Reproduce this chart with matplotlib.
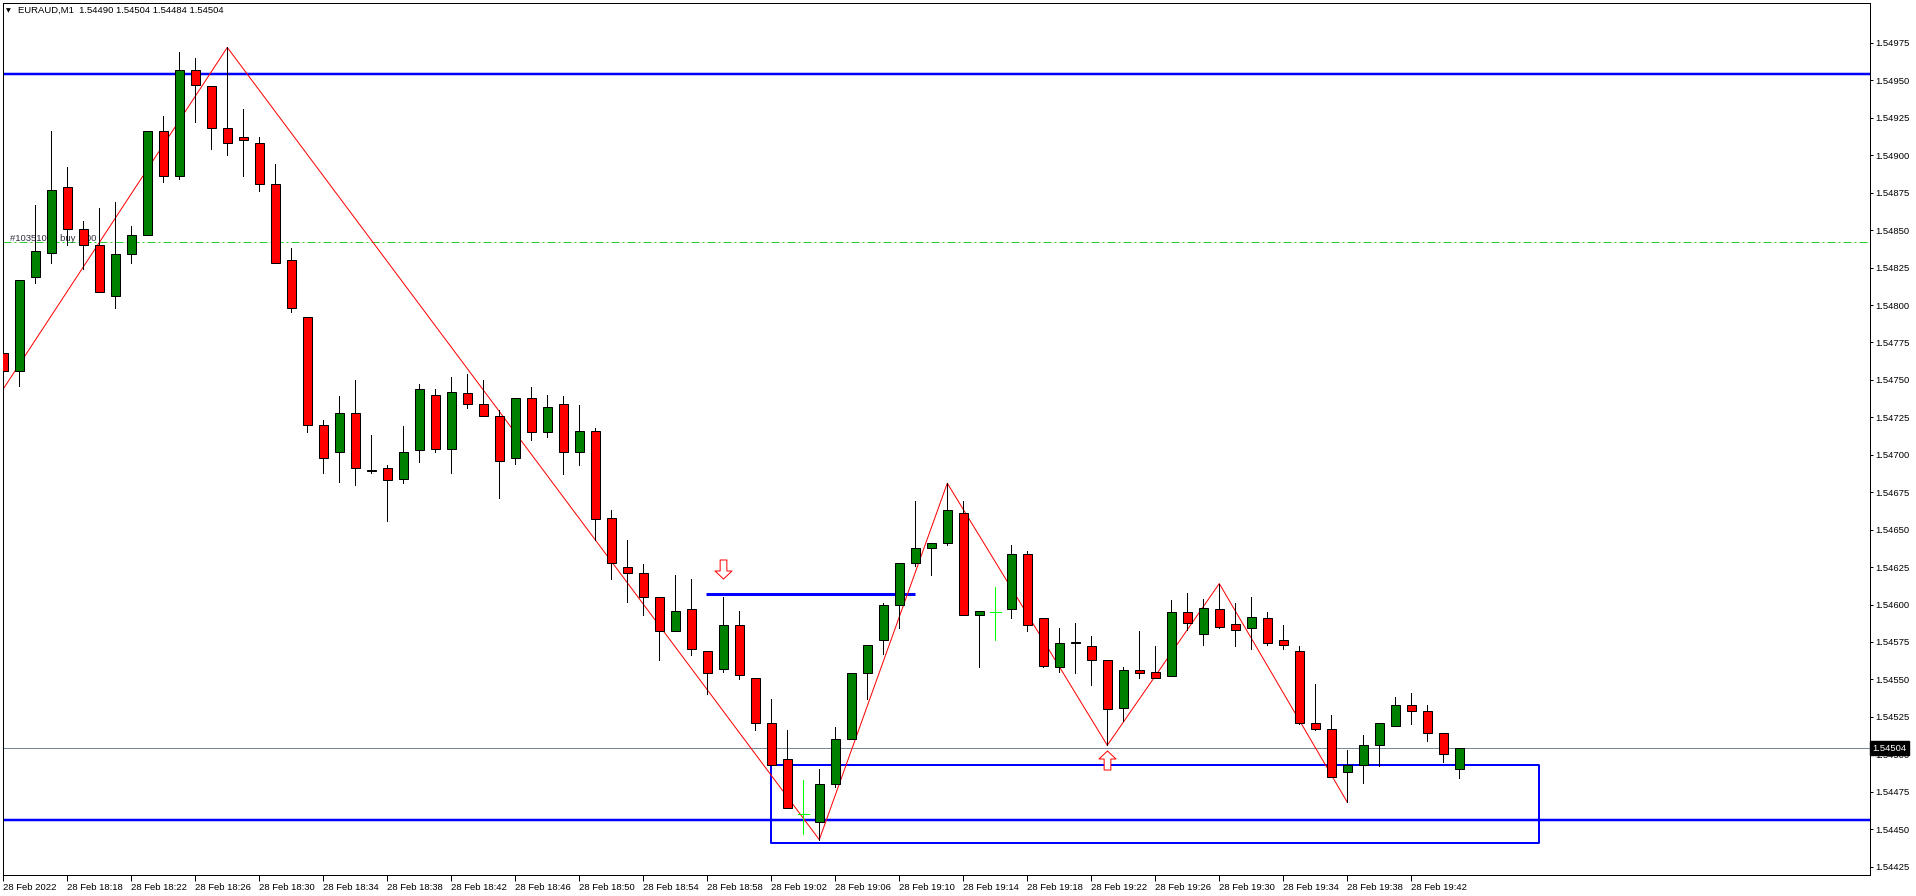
import matplotlib as mtl
mtl.use('Agg')
import matplotlib.pyplot as plt
import numpy as np
from matplotlib.path import Path

plt.rcParams['font.family'] = ['Liberation Sans', 'DejaVu Sans']

### DATA ###
symbol = 'EURAUD,M1'
last_ohlc = [1.54490, 1.54504, 1.54484, 1.54504]
bid = 1.54504

# one bar per minute, 18:14 .. 19:45
opens = [
    1.54768, 1.54756, 1.54819, 1.54835, 1.54879, 1.54851, 1.54840, 1.54806, 1.54834, 1.54847,
    1.54916, 1.54886, 1.54957, 1.54946, 1.54918, 1.54912, 1.54908, 1.54881, 1.54830, 1.54792,
    1.54720, 1.54702, 1.54728, 1.54689, 1.54691, 1.54684, 1.54703, 1.54740, 1.54704, 1.54741,
    1.54734, 1.54726, 1.54698, 1.54738, 1.54715, 1.54734, 1.54702, 1.54716, 1.54658, 1.54625,
    1.54621, 1.54605, 1.54582, 1.54597, 1.54569, 1.54557, 1.54586, 1.54551, 1.54521, 1.54497,
    1.54460, 1.54455, 1.54480, 1.54510, 1.54554, 1.54576, 1.54600, 1.54628, 1.54638, 1.54641,
    1.54661, 1.54593, 1.54595, 1.54597, 1.54634, 1.54591, 1.54558, 1.54575, 1.54572, 1.54563,
    1.54531, 1.54556, 1.54555, 1.54552, 1.54595, 1.54580, 1.54597, 1.54587, 1.54584, 1.54591,
    1.54576, 1.54569, 1.54521, 1.54517, 1.54488, 1.54493, 1.54506, 1.54519, 1.54533, 1.54529,
    1.54514, 1.54490]
highs = [
    1.54781, 1.54817, 1.54867, 1.54916, 1.54892, 1.54856, 1.54865, 1.54869, 1.54853, 1.54916,
    1.54926, 1.54969, 1.54965, 1.54946, 1.54972, 1.54931, 1.54912, 1.54894, 1.54838, 1.54792,
    1.54723, 1.54739, 1.54750, 1.54713, 1.54693, 1.54719, 1.54747, 1.54744, 1.54752, 1.54754,
    1.54750, 1.54730, 1.54738, 1.54745, 1.54740, 1.54739, 1.54733, 1.54718, 1.54663, 1.54643,
    1.54627, 1.54605, 1.54620, 1.54617, 1.54569, 1.54605, 1.54596, 1.54551, 1.54537, 1.54516,
    1.54483, 1.54490, 1.54518, 1.54554, 1.54573, 1.54601, 1.54628, 1.54669, 1.54641, 1.54681,
    1.54669, 1.54596, 1.54612, 1.54640, 1.54636, 1.54591, 1.54584, 1.54588, 1.54579, 1.54563,
    1.54558, 1.54582, 1.54572, 1.54603, 1.54608, 1.54604, 1.54614, 1.54601, 1.54605, 1.54595,
    1.54586, 1.54572, 1.54547, 1.54526, 1.54503, 1.54513, 1.54521, 1.54538, 1.54541, 1.54533,
    1.54514, 1.54504]
lows = [
    1.54744, 1.54746, 1.54815, 1.54828, 1.54840, 1.54824, 1.54809, 1.54798, 1.54828, 1.54847,
    1.54882, 1.54884, 1.54922, 1.54904, 1.54900, 1.54886, 1.54876, 1.54828, 1.54795, 1.54715,
    1.54688, 1.54682, 1.54680, 1.54688, 1.54656, 1.54681, 1.54695, 1.54702, 1.54688, 1.54731,
    1.54726, 1.54671, 1.54694, 1.54710, 1.54712, 1.54687, 1.54693, 1.54643, 1.54617, 1.54602,
    1.54593, 1.54563, 1.54582, 1.54566, 1.54540, 1.54555, 1.54550, 1.54516, 1.54493, 1.54464,
    1.54447, 1.54443, 1.54478, 1.54510, 1.54537, 1.54567, 1.54584, 1.54626, 1.54620, 1.54640,
    1.54593, 1.54558, 1.54576, 1.54591, 1.54582, 1.54558, 1.54555, 1.54554, 1.54546, 1.54506,
    1.54522, 1.54551, 1.54551, 1.54552, 1.54583, 1.54573, 1.54584, 1.54572, 1.54570, 1.54573,
    1.54570, 1.54520, 1.54516, 1.54485, 1.54468, 1.54481, 1.54492, 1.54519, 1.54520, 1.54509,
    1.54495, 1.54484]
closes = [
    1.54756, 1.54817, 1.54836, 1.54877, 1.54851, 1.54840, 1.54809, 1.54834, 1.54847, 1.54916,
    1.54886, 1.54957, 1.54947, 1.54918, 1.54908, 1.54910, 1.54881, 1.54828, 1.54798, 1.54720,
    1.54698, 1.54728, 1.54691, 1.54690, 1.54683, 1.54702, 1.54744, 1.54704, 1.54742, 1.54734,
    1.54726, 1.54696, 1.54738, 1.54715, 1.54732, 1.54702, 1.54716, 1.54657, 1.54628, 1.54621,
    1.54605, 1.54582, 1.54596, 1.54570, 1.54554, 1.54586, 1.54553, 1.54521, 1.54493, 1.54464,
    1.54460, 1.54480, 1.54510, 1.54554, 1.54573, 1.54600, 1.54628, 1.54638, 1.54641, 1.54663,
    1.54593, 1.54596, 1.54595, 1.54634, 1.54586, 1.54559, 1.54574, 1.54574, 1.54563, 1.54530,
    1.54556, 1.54554, 1.54551, 1.54595, 1.54588, 1.54598, 1.54585, 1.54583, 1.54592, 1.54574,
    1.54573, 1.54521, 1.54517, 1.54485, 1.54493, 1.54506, 1.54521, 1.54533, 1.54529, 1.54514,
    1.54500, 1.54504]

time_tick_idx = list(range(0, 92, 4))
time_tick_labels = ['28 Feb 2022', '28 Feb 18:18', '28 Feb 18:22', '28 Feb 18:26', '28 Feb 18:30',
                    '28 Feb 18:34', '28 Feb 18:38', '28 Feb 18:42', '28 Feb 18:46', '28 Feb 18:50',
                    '28 Feb 18:54', '28 Feb 18:58', '28 Feb 19:02', '28 Feb 19:06', '28 Feb 19:10',
                    '28 Feb 19:14', '28 Feb 19:18', '28 Feb 19:22', '28 Feb 19:26', '28 Feb 19:30',
                    '28 Feb 19:34', '28 Feb 19:38', '28 Feb 19:42']

# zigzag swing points (bar index, which extreme)
zz_idx = [0, 14, 51, 59, 69, 76, 84]
zz_kind = ['low', 'high', 'low', 'high', 'low', 'high', 'low']

# chart objects
hline_levels = [1.54954, 1.54456]
order_level = 1.54842
order_text = '#10351077 buy 1.00'
seg_start, seg_end, seg_level = 44, 57, 1.54607
rect_x0, rect_x1, rect_top, rect_bottom = 48, 96, 1.54493, 1.54441
arrow_idx = [45, 69]
arrow_price = [1.54624, 1.54496]
arrow_dir = ['down', 'up']

### PLOT ###
W, H = 1916, 896
fs = 6.8
fig = plt.figure(figsize=(W / 100, H / 100), dpi=100)
px = 0.72  # one pixel in points
ax = fig.add_axes([2.7 / W, 21 / H, (1870 - 2.7) / W, (875 - 2.7) / H])
ax.set_xlim(-0.0375, 116.67)
ax.set_ylim(1.544194, 1.5500186)

x = np.arange(len(opens))
o = np.array(opens); c = np.array(closes); hi = np.array(highs); lo = np.array(lows)
doji = o == c
up = c > o

# horizontal lines / objects behind the bars
for lvl in hline_levels:
    ax.axhline(lvl, color='#0000FF', lw=2.5 * px, zorder=1)
ax.axhline(bid, color='#778899', lw=px, zorder=1)
ax.axhline(order_level, color='#32CD32', lw=px, linestyle=(0, (8, 3, 2, 3)), zorder=1)
ax.annotate(order_text, xy=(0, order_level), xytext=(4.5, 1), textcoords='offset points',
            fontsize=fs, color='#303040', va='baseline', ha='left', zorder=1)
ax.plot([seg_start - 0.08, seg_end], [seg_level, seg_level], color='#0000FF', lw=3 * px, zorder=1,
        solid_capstyle='butt')
ax.plot([rect_x0 - 0.04, rect_x1, rect_x1, rect_x0 - 0.04, rect_x0 - 0.04],
        [rect_top, rect_top, rect_bottom, rect_bottom, rect_top], color='#0000FF', lw=2 * px, zorder=1)

zz_y = [highs[i] if k == 'high' else lows[i] for i, k in zip(zz_idx, zz_kind)]
ax.plot(zz_idx, zz_y, color='#FF0000', lw=px, zorder=2)

# candles
ax.vlines(x[~doji], lo[~doji], hi[~doji], color='black', lw=px, zorder=3, antialiased=False)
ax.vlines(x[doji], lo[doji], hi[doji], color='#00FF00', lw=px, zorder=3, antialiased=False)
ax.hlines(o[doji], x[doji] - 0.33, x[doji] + 0.33, color='#00FF00', lw=px, zorder=3, antialiased=False)
nd = ~doji
ax.bar(x[nd], np.abs(c - o)[nd], bottom=np.minimum(o, c)[nd], width=0.5625,
       color=np.where(up[nd], '#008000', '#FF0000'), edgecolor='black', linewidth=px, zorder=4)

# hollow arrows
down_arrow = Path([(-3.35, 9.5), (3.35, 9.5), (3.35, -1.5), (8.5, -1.5), (0, -9.5),
                   (-8.5, -1.5), (-3.35, -1.5), (-3.35, 9.5)], closed=True)
up_arrow = Path([(vx, -vy) for vx, vy in down_arrow.vertices], closed=True)
for i, p, d in zip(arrow_idx, arrow_price, arrow_dir):
    ax.plot(i, p, marker=down_arrow if d == 'down' else up_arrow, markersize=13.7,
            mfc='white', mec='#FF0000', mew=px, zorder=5)

# axes styling
for s in ax.spines.values():
    s.set_color('black'); s.set_linewidth(px)
ax.yaxis.tick_right()
yt = np.round(np.arange(1.54425, 1.54976, 0.00025), 5)
ax.set_yticks(yt)
ax.set_yticklabels(['%.5f' % v for v in yt])
ax.set_xticks(time_tick_idx)
ax.set_xticklabels(time_tick_labels, ha='left')
ax.tick_params(axis='x', direction='out', length=4, width=px, pad=1.5, labelsize=fs)
ax.tick_params(axis='y', direction='out', length=2.2, width=px, pad=1.8, labelsize=fs)

ax.annotate('%.5f' % bid, xy=(1, bid), xycoords=('axes fraction', 'data'), xytext=(1.8, 0),
            textcoords='offset points', ha='left', va='center', fontsize=fs, color='white',
            bbox=dict(boxstyle='square,pad=0.25', fc='black', ec='black'),
            annotation_clip=False, zorder=10)

# header
fig.text(6 / W, 1 - 10.5 / H, '\u25bc', fontsize=4.5, va='center', ha='left', family='DejaVu Sans')
fig.text(18.3 / W, 1 - 10.7 / H, '%s  %.5f %.5f %.5f %.5f' % (symbol, *last_ohlc),
         fontsize=fs, va='center', ha='left')

fig.savefig('out.png', dpi=100)
